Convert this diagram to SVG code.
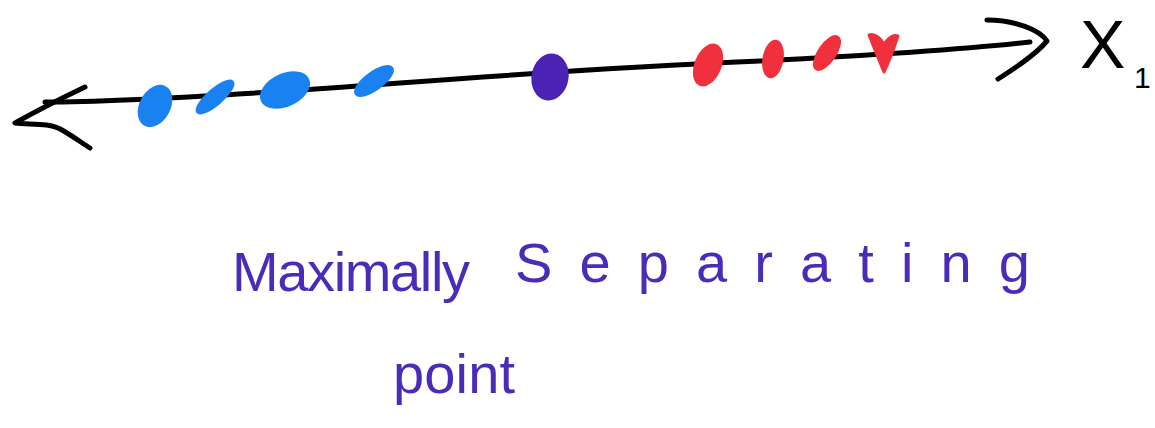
<svg xmlns="http://www.w3.org/2000/svg" width="1155" height="428" viewBox="0 0 1155 428">
  <style>
    .ink { fill: none; stroke: #000; stroke-width: 5; stroke-linecap: round; stroke-linejoin: round; }
    .blue { fill: #1a82f0; stroke: #1a82f0; stroke-width: 3; }
    .red { fill: #f0303c; stroke: #f0303c; stroke-width: 3; stroke-linejoin: round; }
    .purple { fill: #4a22b4; stroke: #4a22b4; stroke-width: 3; }
    .note { font-family: "Liberation Sans", "DejaVu Sans", sans-serif; fill: #4a2cb8; font-size: 56px; }
    .axislbl { font-family: "Liberation Sans", "DejaVu Sans", sans-serif; fill: #000; }
  </style>
  <rect width="1155" height="428" fill="#ffffff"/>
  <g id="connectors">
    <path id="axis" class="ink" d="M45,102 C120,102 250,94 400,83 C520,74 620,67 760,61 C880,55 960,50 1030,42"/>
    <path id="arrow-left" class="ink" d="M85,87 C62,98 38,110 15,123 C30,125 48,122 62,130 C74,137 82,143 90,148"/>
    <path id="arrow-right" class="ink" d="M987,20 C1015,20 1040,30 1047,41 C1035,55 1015,68 998,79"/>
  </g>
  <g id="blue-points">
    <ellipse class="blue" cx="155" cy="106" rx="21" ry="14" transform="rotate(-62 155 106)"/>
    <ellipse class="blue" cx="215" cy="97" rx="23" ry="7" transform="rotate(-41 215 97)"/>
    <ellipse class="blue" cx="285" cy="90" rx="25" ry="15" transform="rotate(-25 285 90)"/>
    <ellipse class="blue" cx="374" cy="81" rx="22" ry="8" transform="rotate(-36 374 81)"/>
  </g>
  <g id="separating-point">
    <ellipse class="purple" cx="550" cy="77" rx="17" ry="22" transform="rotate(10 550 77)"/>
  </g>
  <g id="red-points">
    <ellipse class="red" cx="708" cy="65" rx="12" ry="21" transform="rotate(22 708 65)"/>
    <ellipse class="red" cx="773" cy="59" rx="9" ry="18" transform="rotate(10 773 59)"/>
    <ellipse class="red" cx="827" cy="53" rx="19" ry="8" transform="rotate(-56 827 53)"/>
    <path class="red" d="M869,35 C875,50 880,63 884,72 C890,60 894,48 898,36 C892,34 888,39 884,44 C880,38 875,33 869,35 Z"/>
  </g>
  <g id="axis-label">
    <text class="axislbl" x="1080" y="68" font-size="68">X</text>
    <text class="axislbl" x="1134" y="88" font-size="30">1</text>
  </g>
  <g id="caption">
    <text class="note" x="232" y="291" textLength="238" lengthAdjust="spacing">Maximally</text>
    <text class="note" x="515" y="282" font-size="62" textLength="515" lengthAdjust="spacing">Separating</text>
    <text class="note" x="393" y="393" textLength="122" lengthAdjust="spacing">point</text>
  </g>
</svg>
